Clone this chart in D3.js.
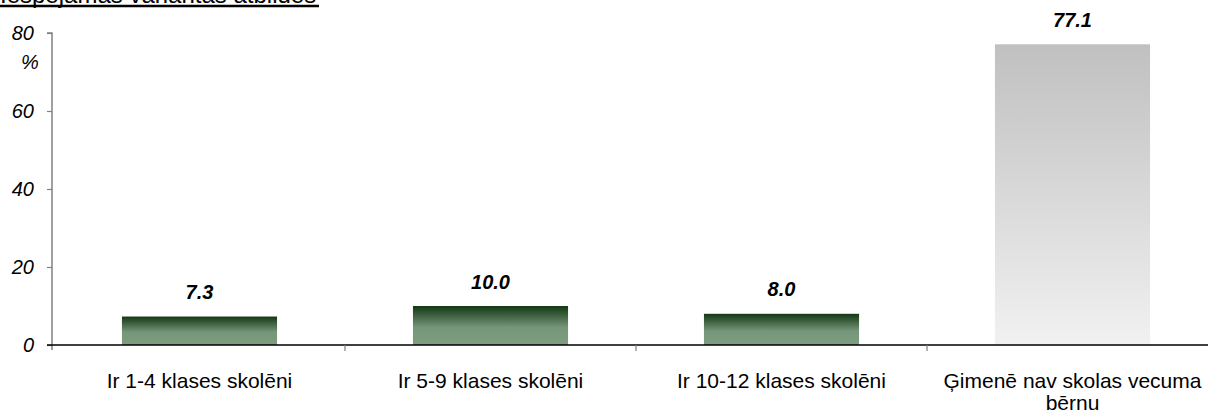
<!DOCTYPE html>
<html>
<head>
<meta charset="utf-8">
<script src="https://cdn.jsdelivr.net/npm/d3@7"></script>
<style>
html,body{margin:0;padding:0;background:#fff;}
svg{display:block;font-family:"Liberation Sans",Arial,sans-serif;}
</style>
</head>
<body>
<svg id="chart" width="1208" height="413"></svg>
<script>
const title = "Iespējamās variantas atbildes";
const categories = ["Ir 1-4 klases skolēni", "Ir 5-9 klases skolēni", "Ir 10-12 klases skolēni", "Ģimenē nav skolas vecuma bērnu"];
const values = [7.3, 10.0, 8.0, 77.1];
const yTicks = [0, 20, 40, 60, 80];
const unitLabel = "%";

const svg = d3.select("#chart");
const defs = svg.append("defs");

const green = defs.append("linearGradient").attr("id", "gGreen")
  .attr("x1", 0).attr("y1", 0).attr("x2", 0).attr("y2", 1);
green.append("stop").attr("offset", 0).attr("stop-color", "#123812");
green.append("stop").attr("offset", 0.55).attr("stop-color", "#76967a");
green.append("stop").attr("offset", 1).attr("stop-color", "#7e9e80");

const grey = defs.append("linearGradient").attr("id", "gGrey")
  .attr("x1", 0).attr("y1", 0).attr("x2", 0).attr("y2", 1);
grey.append("stop").attr("offset", 0).attr("stop-color", "#c0c0c0");
grey.append("stop").attr("offset", 1).attr("stop-color", "#f1f1f1");

const y = d3.scaleLinear().domain([0, 80]).range([345, 33]);
const x = d3.scaleBand().domain(categories).range([54, 1218])
  .paddingInner(0.467).paddingOuter(0.2335);

// title (cut off at the top, as in the reference)
svg.append("text").attr("x", 0).attr("y", 3)
  .attr("font-size", 24).attr("fill", "#000").text(title);
svg.append("line").attr("x1", 0).attr("x2", 319).attr("y1", 6).attr("y2", 6)
  .attr("stroke", "#000").attr("stroke-width", 2.6);

// y axis
const yAxis = d3.axisLeft(y).tickValues(yTicks).tickSize(5).tickPadding(13).tickFormat(d3.format("d"));
const gy = svg.append("g").attr("transform", "translate(52,0)").call(yAxis);
gy.select(".domain").attr("stroke", "#808080").attr("stroke-width", 1.5).attr("d", `M-5,${y(80)}H0V${y(0)+5}`);
gy.selectAll(".tick line").attr("stroke", "#808080").attr("stroke-width", 1.2);
gy.selectAll(".tick text").attr("font-size", 20).attr("font-style", "italic")
  .attr("font-family", "Liberation Sans, Arial, sans-serif").attr("fill", "#000");

svg.append("text").attr("x", 30).attr("y", 69).attr("text-anchor", "middle")
  .attr("font-size", 20).attr("font-style", "italic").text(unitLabel);

// bars
svg.selectAll("rect.bar").data(values).join("rect").attr("class", "bar")
  .attr("x", (d, i) => x(categories[i]))
  .attr("width", x.bandwidth())
  .attr("y", d => y(d))
  .attr("height", d => y(0) - y(d))
  .attr("fill", (d, i) => i === 3 ? "url(#gGrey)" : "url(#gGreen)");

// value labels
svg.selectAll("text.val").data(values).join("text").attr("class", "val")
  .attr("x", (d, i) => x(categories[i]) + x.bandwidth() / 2)
  .attr("y", d => y(d) - 17.5)
  .attr("text-anchor", "middle")
  .attr("font-size", 20).attr("font-weight", "bold").attr("font-style", "italic")
  .text(d => d.toFixed(1));

// x axis
const step = x.step();
const x0 = 54;
svg.append("line").attr("x1", 47).attr("x2", 1208).attr("y1", y(0)).attr("y2", y(0))
  .attr("stroke", "#000").attr("stroke-width", 1.6);
svg.selectAll("line.ctick").data(d3.range(1, categories.length)).join("line").attr("class", "ctick")
  .attr("x1", i => x0 + i * step).attr("x2", i => x0 + i * step)
  .attr("y1", y(0)).attr("y2", y(0) + 6)
  .attr("stroke", "#808080").attr("stroke-width", 1.2);

// category labels with wrapping
const maxW = step - 8;
categories.forEach((c, i) => {
  const cx = x(c) + x.bandwidth() / 2;
  const t = svg.append("text").attr("x", cx).attr("y", 387.5).attr("text-anchor", "middle")
    .attr("font-size", 21).attr("fill", "#000");
  const words = c.split(" ");
  let line = [];
  let tspan = t.append("tspan").attr("x", cx).attr("dy", 0);
  words.forEach(w => {
    line.push(w);
    tspan.text(line.join(" "));
    if (tspan.node().getComputedTextLength() > maxW && line.length > 1) {
      line.pop();
      tspan.text(line.join(" "));
      line = [w];
      tspan = t.append("tspan").attr("x", cx).attr("dy", 22).text(w);
    }
  });
});
</script>
</body>
</html>
